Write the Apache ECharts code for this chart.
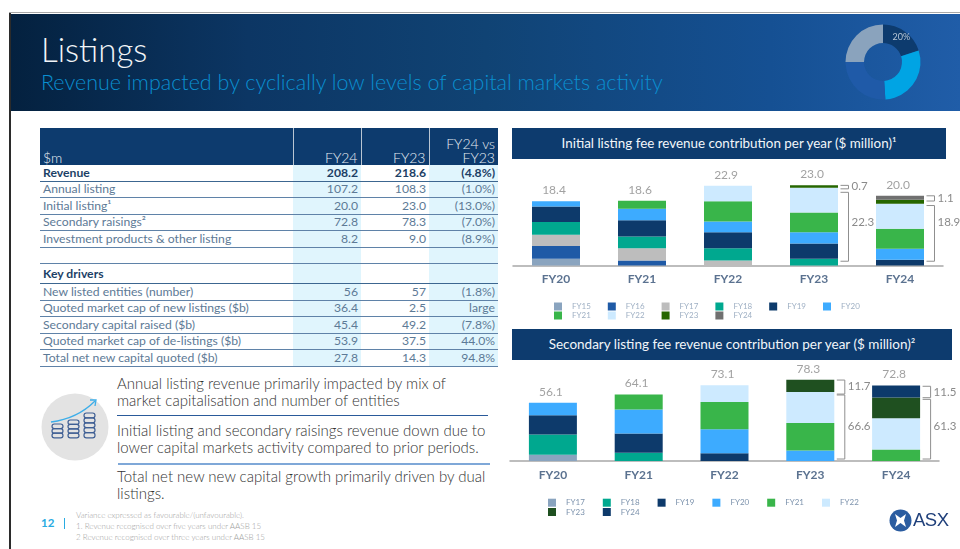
<!DOCTYPE html>
<html>
<head>
<meta charset="utf-8">
<title>Listings</title>
<script src="https://cdn.jsdelivr.net/npm/echarts@6/dist/echarts.min.js"></script>
<style>
  html, body { margin: 0; padding: 0; background: #fff; }
  body { width: 960px; height: 549px; position: relative; overflow: hidden; font-family: Lato, sans-serif; }
  .abs { position: absolute; white-space: nowrap; }
  #frameTop { left: 9px; top: 12px; width: 951px; height: 1px; background: #a9a9a9; }
  #frameLeft { left: 9px; top: 13px; width: 2px; height: 536px; background: #2b2b2b; }
  #header { left: 11px; top: 14px; width: 949px; height: 97px;
    background: linear-gradient(90deg, #04213f 0, #0c3664 25%, #104374 50%, #155093 80%, #205da8 100%); }
  #title { left: 41px; top: 26px; font-size: 33px; font-weight: 300; color: #f2f5f8; line-height: 46px; }
  #subtitle { left: 41px; top: 67px; font-size: 21.5px; font-weight: 300; color: #0a8fd0; line-height: 30px; }
  #donut { left: 833px; top: 12px; width: 100px; height: 100px; }

  #finance { left: 40px; top: 128px; border-collapse: collapse; table-layout: fixed; width: 458px; font-size: 12.2px; font-weight: 400; color: #5d7a96; }
  #finance td, #finance th { padding: 0 3px; line-height: 14px; text-align: right; overflow: hidden; white-space: nowrap; }
  #finance td:first-child, #finance th:first-child { text-align: left; }
  #finance th { background: #0d3b6e; color: #e8eef4; font-weight: 300; vertical-align: bottom; height: 37px; border-left: 1px solid #b9c5d2; font-size: 14px; }
  #finance th:first-child { border-left: 0; }
  #finance td { border-bottom: 1.5px solid #5f82a8; height: 15.5px; }
  #finance td:nth-child(2), #finance td:nth-child(4) { background: #e0f5fd; }
  #finance tr.strong td { font-weight: 700; color: #1c3f66; border-bottom-color: #3c6690; }
  #finance tr.blank td { border-bottom: 1.5px solid #5f82a8; }
  #finance tr.blank td:nth-child(1), #finance tr.blank td:nth-child(3) { background: #fff; }

  .note { left: 117px; font-size: 15px; font-weight: 300; color: #333; line-height: 17.4px; }
  #rule1 { left: 117px; top: 414.5px; width: 371px; height: 1px; background: #2a5a9a; }
  #rule2 { left: 118px; top: 463px; width: 372px; height: 2px; background: #7fa8d8; }
  #pageNo { left: 41px; top: 515px; font-size: 11.5px; font-weight: 700; color: #29abe2; line-height: 16px; }
  #pagePipe { left: 64px; top: 518px; width: 1px; height: 11px; background: #29abe2; }
  #foot { left: 76px; top: 510px; font-size: 8px; font-weight: 300; color: #9c9c9c; line-height: 11px; }

  .band { background: #0d3b6e; color: #f2f6fa; text-align: center; }
  #bandInitial { left: 512px; top: 128px; width: 434px; height: 31px; line-height: 30px; font-size: 13.4px; }
  #bandSecondary { left: 512px; top: 329px; width: 440px; height: 31px; line-height: 30px; font-size: 13.5px; }
  #chartInitial { left: 505px; top: 160px; width: 455px; height: 169px; }
  #chartSecondary { left: 505px; top: 360px; width: 455px; height: 165px; }
  #asxText { left: 913px; top: 508px; font-family: "Liberation Sans", sans-serif; font-size: 18.5px; color: #1f3f7a; line-height: 24px; letter-spacing: -0.5px; }
</style>
</head>
<body>
<div class="abs" id="frameTop"></div>
<div class="abs" id="header"></div>
<div class="abs" id="frameLeft"></div>
<div class="abs" id="title">Listings</div>
<div class="abs" id="subtitle">Revenue impacted by cyclically low levels of capital markets activity</div>
<div class="abs" id="donut"></div>

<table class="abs" id="finance">
  <colgroup><col style="width:253px"><col style="width:68px"><col style="width:68px"><col style="width:69px"></colgroup>
  <thead></thead>
  <tbody></tbody>
</table>

<svg class="abs" style="left:41px;top:393px" width="68" height="68" viewBox="0 0 68 68">
  <circle cx="34" cy="34" r="33.5" fill="#e3e3e3"/>
  <path d="M10 29 C26 27 42 20 54 8" fill="none" stroke="#3daee9" stroke-width="1.3"/>
  <path d="M49 7 L55 7 L54 13" fill="none" stroke="#3daee9" stroke-width="1.3"/>
  <g fill="none" stroke="#3f5f94" stroke-width="1.2">
    <rect x="11" y="31" width="11" height="4.6" rx="2.3"/><rect x="11" y="35.6" width="11" height="4.6" rx="2.3"/><rect x="11" y="40.2" width="11" height="4.6" rx="2.3"/>
    <rect x="27" y="27" width="11" height="4.4" rx="2.2"/><rect x="27" y="31.4" width="11" height="4.4" rx="2.2"/><rect x="27" y="35.8" width="11" height="4.4" rx="2.2"/><rect x="27" y="40.2" width="11" height="4.6" rx="2.3"/>
    <rect x="43" y="20" width="11" height="4.9" rx="2.4"/><rect x="43" y="24.9" width="11" height="4.9" rx="2.4"/><rect x="43" y="29.8" width="11" height="4.9" rx="2.4"/><rect x="43" y="34.7" width="11" height="4.9" rx="2.4"/><rect x="43" y="39.6" width="11" height="5.2" rx="2.4"/>
  </g>
</svg>
<div class="abs note" style="top:375px">Annual listing revenue primarily impacted by mix of<br>market capitalisation and number of entities</div>
<div class="abs" id="rule1"></div>
<div class="abs note" style="top:422px">Initial listing and secondary raisings revenue down due to<br>lower capital markets activity compared to prior periods.</div>
<div class="abs" id="rule2"></div>
<div class="abs note" style="top:468px">Total net new new capital growth primarily driven by dual<br>listings.</div>

<div class="abs" id="pageNo">12</div>
<div class="abs" id="pagePipe"></div>
<div class="abs" id="foot">Variance expressed as favourable/(unfavourable).<br>1. Revenue recognised over five years under AASB 15<br>2 Revenue recognised over three years under AASB 15</div>

<div class="abs band" id="bandInitial">Initial listing fee revenue contribution per year ($ million)¹</div>
<div class="abs band" id="bandSecondary">Secondary listing fee revenue contribution per year ($ million)²</div>
<div class="abs" id="chartInitial"></div>
<div class="abs" id="chartSecondary"></div>

<svg class="abs" style="left:889px;top:509px" width="23" height="23" viewBox="0 0 23 23">
  <circle cx="11.5" cy="11.5" r="11" fill="#2a5ca0"/>
  <path d="M6 5 L11.5 9 L17 5 L15 11.5 L17 18 L11.5 14 L6 18 L8 11.5 Z" fill="#fff"/>
</svg>
<div class="abs" id="asxText">ASX</div>

<script>
  // chart categories
  var years = ['FY20', 'FY21', 'FY22', 'FY23', 'FY24'];

  // initial listing fee revenue, one array per vintage
  var initialFY15 = [1.9, null, null, null, null];
  var initialFY16 = [3.7, 1.4, null, null, null];
  var initialFY17 = [3.2, 3.5, 1.4, null, null];
  var initialFY18 = [3.7, 3.4, 3.5, 1.9, null];
  var initialFY19 = [4.4, 4.7, 4.6, 4.4, 1.6];
  var initialFY20 = [1.5, 3.3, 3.1, 3.2, 3.2];
  var initialFY21 = [null, 2.3, 5.8, 5.7, 5.7];
  var initialFY22 = [null, null, 4.5, 7.1, 7.2];
  var initialFY23 = [null, null, null, 0.7, 1.2];
  var initialFY24 = [null, null, null, null, 1.1];
  var initialTotals = [18.4, 18.6, 22.9, 23.0, 20.0];

  // secondary listing fee revenue
  var secondaryFY17 = [6.1, null, null, null, null];
  var secondaryFY18 = [19.4, 8.0, null, null, null];
  var secondaryFY19 = [18.6, 18.6, 7.4, null, null];
  var secondaryFY20 = [12.0, 23.1, 23.1, 10.1, null];
  var secondaryFY21 = [null, 14.4, 26.3, 26.4, 11.2];
  var secondaryFY22 = [null, null, 16.3, 30.1, 29.9];
  var secondaryFY23 = [null, null, null, 11.7, 20.2];
  var secondaryFY24 = [null, null, null, null, 11.5];
  var secondaryTotals = [56.1, 64.1, 73.1, 78.3, 72.8];

  // brackets: category index, low value, high value, value the label sits at, label
  var initialBrackets = [
    [3, 1.2, 21.0, 12.5, '22.3'],
    [3, 22.0, 23.0, 22.6, '0.7'],
    [4, 1.2, 17.2, 12.5, '18.9'],
    [4, 18.5, 20.0, 19.3, '1.1']
  ];
  var secondaryBrackets = [
    [3, 1.9, 63.6, 33, '66.6'],
    [3, 64.5, 78.0, 71.6, '11.7'],
    [4, 1.9, 59.4, 33, '61.3'],
    [4, 61.0, 72.0, 66.2, '11.5']
  ];

  // donut in the header
  var donutValues = [20, 29, 26, 25];

  // table
  var tableHead = ['$m', 'FY24', 'FY23', 'FY24 vs<br>FY23'];
  var tableRevenue = ['Revenue', '208.2', '218.6', '(4.8%)'];
  var tableRevenueRows = [
    ['Annual listing', '107.2', '108.3', '(1.0%)'],
    ['Initial listing¹', '20.0', '23.0', '(13.0%)'],
    ['Secondary raisings²', '72.8', '78.3', '(7.0%)'],
    ['Investment products &amp; other listing', '8.2', '9.0', '(8.9%)']
  ];
  var tableDrivers = ['Key drivers', '', '', ''];
  var tableDriverRows = [
    ['New listed entities (number)', '56', '57', '(1.8%)'],
    ['Quoted market cap of new listings ($b)', '36.4', '2.5', 'large'],
    ['Secondary capital raised ($b)', '45.4', '49.2', '(7.8%)'],
    ['Quoted market cap of de-listings ($b)', '53.9', '37.5', '44.0%'],
    ['Total net new capital quoted ($b)', '27.8', '14.3', '94.8%']
  ];

  function rowHtml(cells, cls) {
    return '<tr class="' + (cls || '') + '">' + cells.map(function (c) { return '<td>' + c + '</td>'; }).join('') + '</tr>';
  }

  var table = document.getElementById('finance');
  table.tHead.innerHTML = '<tr>' + tableHead.map(function (c) { return '<th>' + c + '</th>'; }).join('') + '</tr>';
  var body = rowHtml(tableRevenue, 'strong');
  tableRevenueRows.forEach(function (r) { body += rowHtml(r); });
  body += '<tr class="blank"><td style="height:15px"></td><td></td><td></td><td></td></tr>';
  body += rowHtml(tableDrivers, 'strong').replace('<td>', '<td style="height:19px">');
  tableDriverRows.forEach(function (r) { body += rowHtml(r); });
  table.tBodies[0].innerHTML = body;

  // draws the square brackets beside the bars, from the value axis
  function bracketSeries(rows) {
    return {
      type: 'custom',
      silent: true,
      clip: false,
      z: 5,
      data: rows.map(function (r) { return [r[0], r[1], r[2], r[3]]; }),
      encode: { x: 0, y: [1, 2] },
      renderItem: function (params, api) {
        var low = api.coord([api.value(0), api.value(1)]);
        var high = api.coord([api.value(0), api.value(2)]);
        var at = api.coord([api.value(0), api.value(3)]);
        var x0 = low[0] + 26.5;
        var x1 = low[0] + 34.5;
        return {
          type: 'group',
          children: [
            {
              type: 'polyline',
              shape: { points: [[x0, low[1]], [x1, low[1]], [x1, high[1]], [x0, high[1]]] },
              style: { stroke: '#8f8f8f', lineWidth: 1, fill: null }
            },
            {
              type: 'text',
              style: {
                x: x1 + 3, y: at[1], text: rows[params.dataIndex][4],
                fill: '#8a8a8a', font: '400 11.5px Lato', textAlign: 'left', textVerticalAlign: 'middle'
              }
            }
          ]
        };
      }
    };
  }

  function stackedChart(domId, cfg) {
    var chart = echarts.init(document.getElementById(domId));
    var series = cfg.stacks.map(function (s) {
      return {
        name: s.name,
        type: 'bar',
        stack: 'total',
        barWidth: 48,
        data: s.data,
        itemStyle: { color: s.color }
      };
    });
    series.push({
      type: 'scatter',
      symbolSize: 0,
      silent: true,
      data: cfg.totals,
      label: {
        show: true, position: 'top', distance: 5, offset: [-2, 0],
        color: '#8a8a8a', fontSize: 12, fontWeight: 400, fontFamily: 'Lato',
        formatter: function (p) { return p.value.toFixed(1); }
      }
    });
    series.push(bracketSeries(cfg.brackets));

    var names = cfg.stacks.map(function (s) { return s.name; });
    var legends = [names.slice(0, 6), names.slice(6)].map(function (row, i) {
      return {
        data: row,
        left: cfg.legendLeft,
        top: cfg.legendTop + i * cfg.legendStep,
        padding: 0,
        itemWidth: 8,
        itemHeight: 8,
        itemGap: cfg.legendGap,
        icon: 'rect',
        selectedMode: false,
        textStyle: { color: cfg.legendColor, fontSize: 8, fontFamily: 'Lato', width: 33, padding: [0, 0, 0, 5] }
      };
    });

    chart.setOption({
      animation: false,
      legend: legends,
      grid: { left: cfg.gridLeft, top: cfg.gridTop, width: cfg.gridWidth, height: cfg.gridHeight },
      xAxis: {
        type: 'category',
        data: years,
        axisTick: { show: false },
        axisLine: { lineStyle: { color: '#a8a8a8', width: 1.5 } },
        axisLabel: { color: '#5b7290', fontSize: 12, fontWeight: 700, fontFamily: 'Lato', margin: 8 }
      },
      yAxis: { type: 'value', min: 0, max: cfg.max, show: false },
      series: series
    });
  }

  stackedChart('chartInitial', {
    gridLeft: 8, gridTop: 1, gridWidth: 430, gridHeight: 104.4, max: 30,
    legendLeft: 49, legendTop: 142.5, legendStep: 9, legendGap: 17, legendColor: '#9fb0c4',
    totals: initialTotals,
    brackets: initialBrackets,
    stacks: [
      { name: 'FY15', data: initialFY15, color: '#8aa4bf' },
      { name: 'FY16', data: initialFY16, color: '#1f5aa6' },
      { name: 'FY17', data: initialFY17, color: '#bdbdbd' },
      { name: 'FY18', data: initialFY18, color: '#00a88f' },
      { name: 'FY19', data: initialFY19, color: '#0d3a6b' },
      { name: 'FY20', data: initialFY20, color: '#3dabff' },
      { name: 'FY21', data: initialFY21, color: '#39b54a' },
      { name: 'FY22', data: initialFY22, color: '#cdeaff' },
      { name: 'FY23', data: initialFY23, color: '#256600' },
      { name: 'FY24', data: initialFY24, color: '#707070' }
    ]
  });

  stackedChart('chartSecondary', {
    gridLeft: 5, gridTop: 7.6, gridWidth: 429, gridHeight: 93.4, max: 90,
    legendLeft: 43, legendTop: 138.7, legendStep: 9.3, legendGap: 18, legendColor: '#7d93ad',
    totals: secondaryTotals,
    brackets: secondaryBrackets,
    stacks: [
      { name: 'FY17', data: secondaryFY17, color: '#8aa4bf' },
      { name: 'FY18', data: secondaryFY18, color: '#00a88f' },
      { name: 'FY19', data: secondaryFY19, color: '#0d3a6b' },
      { name: 'FY20', data: secondaryFY20, color: '#3dabff' },
      { name: 'FY21', data: secondaryFY21, color: '#39b54a' },
      { name: 'FY22', data: secondaryFY22, color: '#cdeaff' },
      { name: 'FY23', data: secondaryFY23, color: '#1f5020' },
      { name: 'FY24', data: secondaryFY24, color: '#0d3a6b' }
    ]
  });

  var donutColors = ['#0d3b6e', '#00a4e4', '#1f5aa8', '#8aa3bd'];
  echarts.init(document.getElementById('donut')).setOption({
    animation: false,
    series: [{
      type: 'pie',
      silent: true,
      center: [50, 50],
      radius: [19, 37.5],
      startAngle: 90,
      label: { show: false },
      labelLine: { show: false },
      data: donutValues.map(function (v, i) {
        var item = { value: v, itemStyle: { color: donutColors[i] } };
        if (i === 0) {
          item.label = { show: true, position: 'inside', formatter: '{c}%', color: '#b5c5d5', fontSize: 9, fontFamily: 'Lato' };
        }
        return item;
      })
    }]
  });
</script>
</body>
</html>
